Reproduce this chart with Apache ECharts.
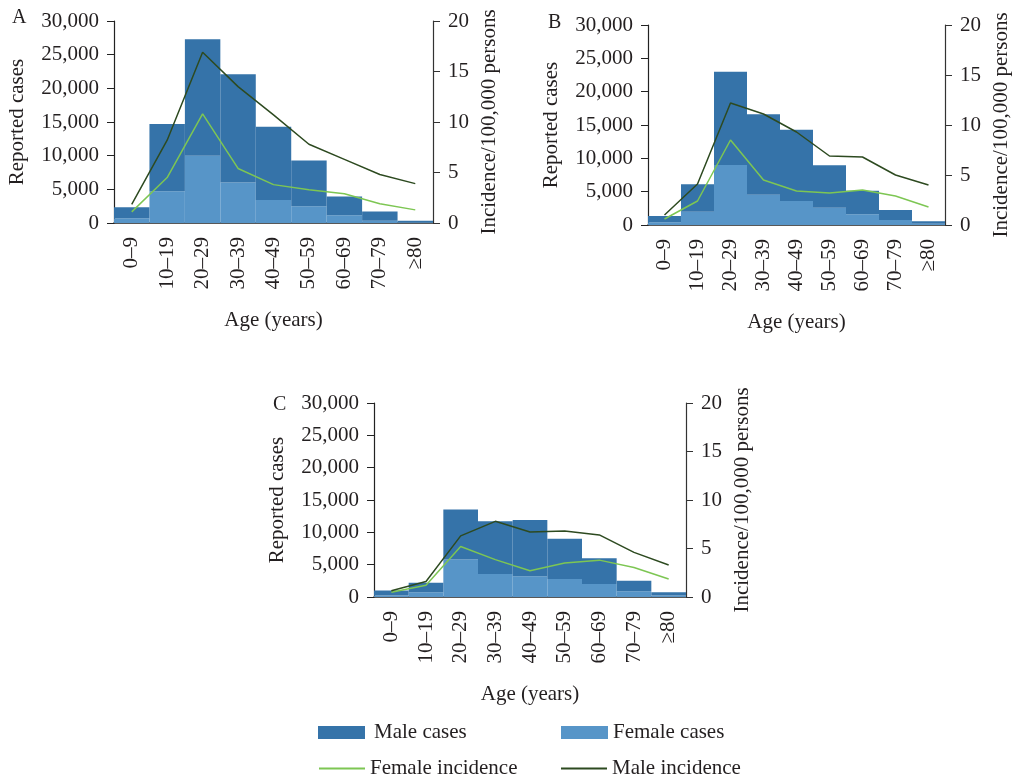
<!DOCTYPE html>
<html><head><meta charset="utf-8">
<script src="https://cdn.jsdelivr.net/npm/echarts@6/dist/echarts.min.js"></script>
<style>html,body{margin:0;padding:0;background:#fff}#c{width:1014px;height:781px}</style>
</head><body><div id="c"></div><script>
// ---- data ----
const ageGroups = ['0–9','10–19','20–29','30–39','40–49','50–59','60–69','70–79','≥80'];
const panelLabels = ['A','B','C'];
// Panel A
const maleCasesA   = [1650, 10000, 17300, 16100, 10900, 6800, 2800, 1350, 250];
const femaleCasesA = [700, 4700, 10000, 6000, 3400, 2500, 1150, 350, 100];
const maleIncA     = [1.85, 8.2, 16.9, 13.5, 10.7, 7.8, 6.3, 4.8, 3.9];
const femaleIncA   = [1.1, 4.5, 10.8, 5.4, 3.8, 3.3, 2.9, 1.9, 1.3];
// Panel B
const maleCasesB   = [950, 4100, 14000, 12050, 10700, 6350, 3550, 1500, 350];
const femaleCasesB = [400, 2000, 9000, 4550, 3600, 2600, 1600, 750, 200];
const maleIncB     = [1.0, 4.1, 12.2, 11.1, 9.3, 6.9, 6.8, 5.0, 4.0];
const femaleIncB   = [0.6, 2.4, 8.5, 4.5, 3.4, 3.2, 3.5, 2.9, 1.8];
// Panel C
const maleCasesC   = [750, 1480, 7750, 8150, 8700, 6200, 4000, 1600, 470];
const femaleCasesC = [250, 720, 5800, 3550, 3200, 2800, 2000, 900, 250];
const maleIncC     = [0.65, 1.6, 6.3, 7.8, 6.7, 6.8, 6.4, 4.6, 3.3];
const femaleIncC   = [0.5, 1.2, 5.2, 3.85, 2.7, 3.5, 3.8, 3.05, 1.85];
// axis settings
const casesMax = 30000, casesStep = 5000;
const incMax = 20, incStep = 5;

const maleCases = [maleCasesA, maleCasesB, maleCasesC];
const femaleCases = [femaleCasesA, femaleCasesB, femaleCasesC];
const maleInc = [maleIncA, maleIncB, maleIncC];
const femaleInc = [femaleIncA, femaleIncB, femaleIncC];

const FONT = '"Liberation Serif", "DejaVu Serif", serif';
const TXT = '#231f20';
const C_MALE = '#3573a9', C_FEMALE = '#5795c8', L_MALE = '#2d4a20', L_FEMALE = '#7dc653';

const grids = [
  {left:114, top:21, width:319, height:202},
  {left:648, top:25, width:297, height:200},
  {left:374, top:403, width:312, height:194}
];
const letterPos = [[12,8],[548,13],[273,395]];

const xAxis = [], yAxis = [], series = [], graphic = [];
grids.forEach((g, i) => {
  xAxis.push({
    type:'category', gridIndex:i, data:ageGroups, boundaryGap:true,
    axisLine:{lineStyle:{color:'#222', width:1.5}}, axisTick:{show:false},
    axisLabel:{rotate:90, margin:14, fontFamily:FONT, fontSize:21, color:TXT, interval:0},
    name:'Age (years)', nameLocation:'middle', nameGap:87,
    nameTextStyle:{fontFamily:FONT, fontSize:21, color:TXT}
  });
  yAxis.push({
    type:'value', gridIndex:i, min:0, max:casesMax, interval:casesStep, position:'left',
    axisLine:{show:true, lineStyle:{color:'#222', width:1.2}},
    axisTick:{show:true, length:7, lineStyle:{color:'#222'}},
    splitLine:{show:false},
    axisLabel:{margin:15, fontFamily:FONT, fontSize:21, color:TXT,
      formatter:v => v.toLocaleString('en-US')},
    name:'Reported cases', nameLocation:'middle', nameGap:86, nameRotate:90,
    nameTextStyle:{fontFamily:FONT, fontSize:21, color:TXT}
  });
  yAxis.push({
    type:'value', gridIndex:i, min:0, max:incMax, interval:incStep, position:'right',
    axisLine:{show:true, lineStyle:{color:'#333', width:1.2}},
    axisTick:{show:true, length:7, lineStyle:{color:'#333'}},
    splitLine:{show:false},
    axisLabel:{margin:15, fontFamily:FONT, fontSize:21, color:TXT},
    name:'Incidence/100,000 persons', nameLocation:'middle', nameGap:46, nameRotate:90,
    nameTextStyle:{fontFamily:FONT, fontSize:21, color:TXT}
  });
  series.push({
    name:'Female cases', type:'bar', xAxisIndex:i, yAxisIndex:2*i, stack:'cases'+i,
    data:femaleCases[i], barWidth:'100%', itemStyle:{color:C_FEMALE}, silent:true
  });
  series.push({
    name:'Male cases', type:'bar', xAxisIndex:i, yAxisIndex:2*i, stack:'cases'+i,
    data:maleCases[i], barWidth:'100%', itemStyle:{color:C_MALE}, silent:true
  });
  series.push({
    name:'Female incidence', type:'line', xAxisIndex:i, yAxisIndex:2*i+1,
    data:femaleInc[i], symbol:'none', lineStyle:{color:L_FEMALE, width:1.5},
    itemStyle:{color:L_FEMALE}, silent:true
  });
  series.push({
    name:'Male incidence', type:'line', xAxisIndex:i, yAxisIndex:2*i+1,
    data:maleInc[i], symbol:'none', lineStyle:{color:L_MALE, width:1.5},
    itemStyle:{color:L_MALE}, silent:true
  });
  graphic.push({type:'text', left:letterPos[i][0], top:letterPos[i][1],
    style:{text:panelLabels[i], fontFamily:FONT, fontSize:20, fill:TXT}});
});

const legendBase = {padding:0, itemGap:0, selectedMode:false,
  textStyle:{fontFamily:FONT, fontSize:21, color:TXT}};
const legend = [
  Object.assign({}, legendBase, {left:318, top:722, data:['Male cases'], icon:'rect', itemWidth:47, itemHeight:13,
    textStyle:Object.assign({}, legendBase.textStyle, {padding:[0,0,0,4]})}),
  Object.assign({}, legendBase, {left:561, top:722, data:['Female cases'], icon:'rect', itemWidth:47, itemHeight:13,
    textStyle:Object.assign({}, legendBase.textStyle, {padding:[0,0,0,0]})}),
  Object.assign({}, legendBase, {left:319, top:758, data:['Female incidence'], icon:'rect', itemWidth:46, itemHeight:2}),
  Object.assign({}, legendBase, {left:561, top:758, data:['Male incidence'], icon:'rect', itemWidth:46, itemHeight:2})
];

const chart = echarts.init(document.getElementById('c'), null, {renderer:'canvas'});
chart.setOption({
  animation:false, backgroundColor:'#fff',
  grid:grids.map(g => Object.assign({containLabel:false}, g)),
  xAxis, yAxis, series, legend, graphic
});
</script></body></html>
